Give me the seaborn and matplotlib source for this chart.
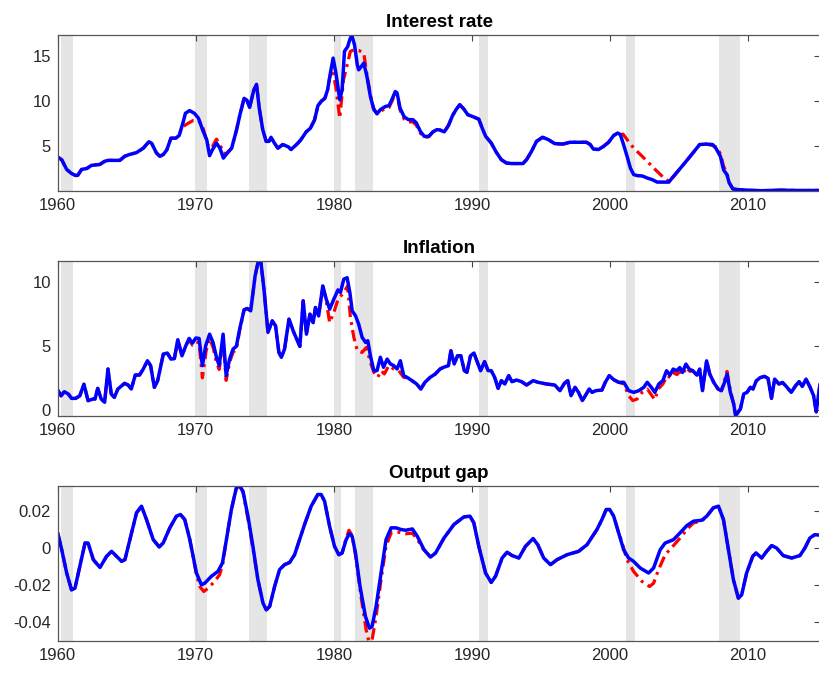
import numpy as np
import pandas as pd
import matplotlib
matplotlib.use("Agg")
import matplotlib.pyplot as plt
import seaborn as sns

sns.set_style("white")
plt.rcParams['font.family'] = ['Liberation Sans', 'DejaVu Sans']
plt.rcParams['axes.unicode_minus'] = False

# ---------------- data ----------------
# NBER recession dates (fractional years)
rec_start = [1960.25, 1969.92, 1973.83, 1980.0, 1981.5, 1990.5, 2001.17, 2007.92]
rec_end = [1961.08, 1970.83, 1975.17, 1980.5, 1982.83, 1991.17, 2001.83, 2009.42]

# Interest rate (blue, solid)
ir_t = [1960.0, 1960.3, 1960.65, 1961.0, 1961.3, 1961.45, 1961.73, 1962.1, 1962.45, 1963.05,
        1963.4, 1963.65, 1964.5, 1964.85, 1965.2, 1965.7, 1966.2, 1966.6, 1966.8, 1967.15,
        1967.4, 1967.65, 1967.9, 1968.2, 1968.55, 1968.8, 1969.1, 1969.25, 1969.55, 1969.9,
        1970.2, 1970.5, 1970.8, 1971.0, 1971.2, 1971.5, 1971.75, 1972.0, 1972.2, 1972.6,
        1972.95, 1973.2, 1973.5, 1973.7, 1973.9, 1974.2, 1974.4, 1974.6, 1974.85, 1975.1,
        1975.3, 1975.45, 1975.7, 1975.95, 1976.3, 1976.7, 1976.9, 1977.3, 1977.6, 1978.0,
        1978.3, 1978.6, 1978.85, 1979.1, 1979.35, 1979.55, 1979.75, 1979.95, 1980.15, 1980.43,
        1980.6, 1980.77, 1981.0, 1981.15, 1981.3, 1981.5, 1981.7, 1981.8, 1981.98, 1982.17,
        1982.4, 1982.65, 1982.9, 1983.13, 1983.37, 1983.73, 1984.0, 1984.2, 1984.45, 1984.58,
        1984.8, 1985.1, 1985.4, 1985.73, 1985.97, 1986.27, 1986.55, 1986.87, 1987.18, 1987.47,
        1987.7, 1988.0, 1988.3, 1988.6, 1988.85, 1989.12, 1989.4, 1989.7, 1990.12, 1990.5,
        1990.75, 1991.0, 1991.4, 1991.77, 1992.13, 1992.5, 1992.86, 1993.7, 1993.96, 1994.32,
        1994.68, 1995.12, 1995.53, 1996.0, 1996.6, 1997.1, 1998.3, 1998.57, 1998.8, 1999.17,
        1999.54, 1999.9, 2000.27, 2000.56, 2000.75, 2000.95, 2001.24, 2001.48, 2001.72, 2002.0,
        2002.33, 2002.7, 2003.05, 2003.42, 2004.27, 2004.5, 2005.0, 2005.6, 2006.1, 2006.5,
        2006.95, 2007.43, 2007.67, 2008.0, 2008.23, 2008.47, 2008.64, 2008.9, 2009.25, 2010.07,
        2010.95, 2011.67, 2012.4, 2013.86, 2015.25]
ir_v = [3.83, 3.5, 2.45, 2.0, 1.78, 1.8, 2.45, 2.55, 2.9, 3.0,
        3.35, 3.45, 3.45, 3.9, 4.1, 4.3, 4.8, 5.5, 5.35, 4.27,
        3.9, 4.1, 4.6, 5.9, 5.9, 6.2, 7.75, 8.65, 8.95, 8.65,
        8.1, 6.8, 5.7, 3.97, 4.6, 5.35, 4.8, 3.7, 4.1, 4.8,
        6.8, 8.5, 10.3, 10.1, 9.3, 11.2, 11.85, 9.2, 6.85, 5.55,
        5.55, 6.0, 5.35, 4.8, 5.2, 4.95, 4.65, 5.2, 5.7, 6.6,
        7.0, 7.9, 9.5, 10.0, 10.3, 11.25, 13.1, 14.75, 13.1, 10.15,
        11.25, 15.5, 16.0, 16.75, 17.3, 16.2, 14.0, 13.45, 13.8, 14.2,
        12.7, 10.5, 9.05, 8.6, 9.05, 9.4, 9.5, 10.15, 11.05, 10.9,
        9.2, 8.25, 7.95, 7.95, 7.6, 6.65, 6.1, 6.1, 6.6, 6.85,
        6.8, 6.6, 7.3, 8.4, 9.05, 9.6, 9.15, 8.5, 8.25, 8.0,
        7.0, 6.1, 5.37, 4.34, 3.53, 3.16, 3.1, 3.1, 3.53, 4.45,
        5.55, 6.0, 5.75, 5.3, 5.25, 5.45, 5.45, 5.2, 4.7, 4.65,
        5.0, 5.45, 6.2, 6.47, 6.3, 5.37, 3.9, 2.6, 1.88, 1.76,
        1.73, 1.5, 1.33, 1.05, 1.05, 1.5, 2.4, 3.5, 4.45, 5.2,
        5.25, 5.2, 4.8, 3.9, 2.4, 1.88, 0.96, 0.3, 0.22, 0.15,
        0.1, 0.13, 0.16, 0.12, 0.13]

# Interest rate (red, dash-dot) where it departs from the blue path
ir_alt_t = [1968.95, 1969.1, 1969.45, 1969.8, 1970.2, 1970.5, 1970.85, 1971.15, 1971.5, 1971.75, 1972.0, 1972.2,
            1979.7, 1979.9, 1980.15, 1980.43, 1980.7, 1981.0, 1981.2, 1981.45, 1981.8, 1982.17, 1982.4,
            1982.65, 1982.85, 1983.13, 1983.37, 1983.73, 1984.0, 1984.2, 1984.45, 1984.58, 1984.8,
            1985.1, 1985.4, 1985.73, 1985.97, 1986.27, 1986.55, 1986.87,
            2000.75, 2000.95, 2001.24, 2001.72, 2002.2, 2002.7, 2003.17, 2003.66, 2004.03, 2004.4, 2004.5,
            2007.43, 2007.67, 2008.0, 2008.23, 2008.47, 2008.64]
ir_alt_v = [6.95, 7.2, 7.55, 7.85, 7.85, 7.2, 5.2, 4.8, 5.8, 5.2, 4.25, 4.2,
            12.6, 13.5, 11.5, 8.1, 12.35, 14.2, 15.5, 15.65, 15.6, 15.3, 12.9,
            10.7, 9.3, 8.6, 8.85, 9.2, 9.3, 9.95, 10.85, 10.7, 9.0,
            8.0, 7.7, 7.7, 7.35, 6.45, 6.0, 6.05,
            6.3, 6.35, 5.75, 4.8, 4.1, 3.35, 2.6, 1.88, 1.33, 1.1, 1.45,
            5.1, 4.95, 4.2, 2.8, 2.0, 1.0]

# Inflation (blue, solid)
inf_t = [1960.0, 1960.24, 1960.48, 1960.77, 1961.0, 1961.3, 1961.6, 1961.9, 1962.2, 1962.55,
         1962.7, 1962.9, 1963.15, 1963.4, 1963.64, 1963.88, 1964.1, 1964.36, 1964.84, 1965.1,
         1965.33, 1965.62, 1965.93, 1966.2, 1966.5, 1966.73, 1967.0, 1967.24, 1967.65, 1967.94,
         1968.2, 1968.45, 1968.7, 1969.0, 1969.28, 1969.52, 1969.76, 1970.0, 1970.24, 1970.48,
         1970.72, 1971.0, 1971.25, 1971.5, 1971.7, 1971.98, 1972.2, 1972.45, 1972.7, 1972.94,
         1973.18, 1973.5, 1973.73, 1973.98, 1974.3, 1974.53, 1974.72, 1974.94, 1975.23, 1975.54,
         1975.78, 1976.02, 1976.2, 1976.43, 1976.75, 1977.1, 1977.54, 1977.78, 1978.02, 1978.27,
         1978.5, 1978.67, 1978.9, 1979.2, 1979.45, 1979.7, 1980.0, 1980.3, 1980.48, 1980.72,
         1980.96, 1981.16, 1981.33, 1981.57, 1981.8, 1982.05, 1982.3, 1982.46, 1982.65, 1982.9,
         1983.13, 1983.37, 1983.6, 1983.86, 1984.1, 1984.34, 1984.58, 1984.82, 1985.06, 1985.3,
         1985.66, 1986.0, 1986.3, 1986.6, 1986.98, 1987.35, 1987.7, 1987.95, 1988.3, 1988.48,
         1988.72, 1988.96, 1989.2, 1989.45, 1989.64, 1989.9, 1990.15, 1990.4, 1990.63, 1990.92,
         1991.17, 1991.4, 1991.65, 1991.9, 1992.14, 1992.38, 1992.67, 1992.9, 1993.23, 1993.6,
         1993.96, 1994.44, 1994.8, 1995.4, 1996.0, 1996.38, 1996.7, 1996.94, 1997.18, 1997.47,
         1997.72, 1998.0, 1998.25, 1998.5, 1998.7, 1998.98, 1999.42, 1999.66, 1999.95, 2000.27,
         2000.63, 2001.0, 2001.36, 2001.72, 2002.09, 2002.45, 2002.7, 2003.0, 2003.25, 2003.54,
         2003.83, 2004.1, 2004.34, 2004.58, 2004.82, 2005.06, 2005.25, 2005.5, 2005.74, 2006.0,
         2006.3, 2006.5, 2006.7, 2007.0, 2007.23, 2007.52, 2007.83, 2008.07, 2008.3, 2008.48,
         2008.72, 2008.96, 2009.1, 2009.45, 2009.69, 2009.93, 2010.17, 2010.36, 2010.6, 2010.9,
         2011.2, 2011.45, 2011.7, 2011.93, 2012.24, 2012.5, 2012.77, 2013.13, 2013.45, 2013.7,
         2013.93, 2014.2, 2014.5, 2014.75, 2014.94, 2015.25]
inf_v = [1.55, 1.1, 1.42, 1.24, 0.9, 0.9, 1.1, 2.0, 0.72, 0.85,
         0.85, 1.68, 0.85, 0.6, 3.19, 1.24, 0.98, 1.63, 2.07, 1.94,
         1.63, 2.72, 2.72, 3.19, 3.83, 3.45, 1.76, 2.28, 4.35, 4.43,
         3.96, 4.0, 5.47, 4.22, 5.0, 5.57, 5.2, 5.6, 5.57, 3.45,
         5.0, 5.9, 5.26, 4.1, 3.45, 5.9, 2.67, 3.96, 4.74, 4.95,
         6.3, 7.8, 7.9, 7.72, 10.45, 11.6, 11.5, 9.4, 6.04, 6.94,
         6.55, 4.48, 4.1, 4.74, 7.07, 6.04, 4.95, 8.5, 5.9, 7.46,
         6.8, 7.98, 7.33, 9.66, 8.63, 7.85, 8.63, 9.35, 9.15, 10.18,
         10.3, 9.15, 7.72, 7.33, 6.68, 5.65, 5.26, 5.39, 4.22, 3.06,
         3.06, 4.1, 3.32, 3.96, 3.58, 3.45, 3.19, 3.83, 2.67, 2.54,
         2.28, 2.02, 1.63, 2.15, 2.54, 2.8, 3.19, 3.32, 3.45, 4.61,
         3.58, 4.22, 4.22, 3.06, 2.93, 4.22, 4.43, 3.7, 3.06, 3.76,
         3.06, 3.06, 2.54, 1.68, 2.28, 2.02, 2.67, 2.2, 2.33, 2.2,
         1.94, 2.28, 2.15, 2.02, 1.94, 1.5, 2.07, 2.28, 1.11, 1.76,
         1.37, 0.73, 1.17, 1.63, 1.37, 1.5, 1.55, 2.15, 2.67, 2.36,
         2.15, 2.15, 1.5, 1.37, 1.5, 1.76, 2.15, 1.76, 1.37, 2.02,
         2.28, 3.05, 2.71, 3.18, 3.05, 3.3, 2.92, 3.57, 3.18, 3.05,
         2.71, 3.18, 1.5, 3.82, 2.79, 2.14, 1.63, 1.5, 2.14, 2.79,
         1.37, 0.47, -0.45, 0.08, 1.24, 1.37, 1.76, 1.63, 2.27, 2.53,
         2.61, 2.45, 0.9, 2.4, 2.02, 2.14, 1.83, 1.37, 1.89, 2.2,
         1.83, 2.4, 1.76, 1.11, -0.15, 2.3]

# Inflation (red, dash-dot) where it departs from the blue path
inf_alt_t = [1969.52, 1969.76, 1970.0, 1970.24, 1970.48, 1970.75, 1971.0, 1971.25, 1971.5, 1971.7,
             1971.98, 1972.2, 1972.45, 1972.7, 1972.94, 1973.18,
             1979.45, 1979.7, 1980.0, 1980.3, 1980.72, 1981.0, 1981.2, 1981.45, 1981.7, 1982.05,
             1982.36, 1982.65, 1982.9, 1983.18, 1983.42, 1983.66, 1983.98, 1984.34, 1984.7, 1985.06, 1985.3,
             2001.0, 2001.36, 2001.65, 2001.97, 2002.33, 2002.7, 2003.05, 2003.25, 2003.5, 2003.83,
             2004.15, 2004.4, 2004.6, 2004.85, 2005.06, 2005.3, 2005.5, 2005.8,
             2008.3, 2008.48, 2008.72]
inf_alt_v = [5.45, 5.05, 5.3, 5.25, 2.5, 4.6, 5.55, 4.9, 3.7, 3.15,
             5.6, 2.3, 3.7, 4.5, 4.7, 6.2,
             8.5, 6.8, 7.6, 8.6, 9.15, 9.66, 7.2, 5.65, 4.61, 4.48,
             4.87, 3.7, 2.93, 2.54, 3.06, 2.8, 3.45, 3.19, 3.06, 2.54, 2.5,
             2.02, 1.11, 0.73, 0.85, 1.37, 1.63, 1.11, 0.8, 1.63, 2.02,
             2.67, 2.5, 2.9, 2.75, 3.0, 2.75, 3.3, 3.0,
             2.3, 3.0, 1.5]

# Output gap (blue, solid)
gap_t = [1960.0, 1960.29, 1960.65, 1961.0, 1961.25, 1961.6, 1961.98, 1962.2, 1962.58, 1963.06,
         1963.54, 1963.9, 1964.27, 1964.63, 1964.87, 1965.23, 1965.71, 1966.07, 1966.43, 1966.92,
         1967.35, 1967.64, 1968.12, 1968.6, 1968.89, 1969.2, 1969.57, 1970.05, 1970.41, 1970.65,
         1971.13, 1971.61, 1971.93, 1972.22, 1972.58, 1972.94, 1973.18, 1973.42, 1973.78, 1974.14,
         1974.5, 1974.87, 1975.11, 1975.35, 1975.71, 1976.07, 1976.43, 1976.8, 1977.16, 1977.52,
         1977.88, 1978.36, 1978.84, 1979.08, 1979.33, 1979.69, 1980.05, 1980.36, 1980.6, 1980.89,
         1981.13, 1981.33, 1981.57, 1981.9, 1982.29, 1982.58, 1982.77, 1983.06, 1983.42, 1983.78,
         1984.15, 1984.5, 1984.87, 1985.2, 1985.69, 1986.05, 1986.53, 1987.0, 1987.37, 1987.98,
         1988.7, 1989.42, 1989.86, 1990.14, 1990.5, 1990.99, 1991.4, 1991.71, 1992.19, 1992.55,
         1992.92, 1993.4, 1993.88, 1994.43, 1994.77, 1995.2, 1995.69, 1996.17, 1996.9, 1997.73,
         1998.34, 1999.06, 1999.42, 1999.73, 1999.98, 2000.27, 2000.63, 2000.99, 2001.35, 2001.71,
         2002.19, 2002.8, 2003.16, 2003.64, 2004.0, 2004.6, 2005.08, 2005.57, 2006.05, 2006.65,
         2007.01, 2007.49, 2007.86, 2008.22, 2008.58, 2008.94, 2009.3, 2009.54, 2009.9, 2010.34,
         2010.58, 2010.99, 2011.35, 2011.71, 2012.07, 2012.55, 2013.16, 2013.76, 2014.12, 2014.48,
         2014.84, 2015.25]
gap_v = [0.008, -0.0011, -0.0137, -0.0228, -0.0219, -0.0101, 0.0025, 0.0025, -0.0065, -0.0107,
         -0.0047, -0.002, -0.0047, -0.0074, -0.0065, 0.0043, 0.0188, 0.0224, 0.0152, 0.0043,
         0.0004, 0.0025, 0.0107, 0.017, 0.0179, 0.0152, 0.0043, -0.0137, -0.0201, -0.0192,
         -0.0155, -0.0128, -0.0083, 0.0043, 0.0206, 0.0323, 0.0333, 0.0305, 0.017, 0.0007,
         -0.0173, -0.030, -0.0336, -0.0318, -0.021, -0.0119, -0.0092, -0.008, -0.0038, 0.0043,
         0.0125, 0.0224, 0.0287, 0.0287, 0.0251, 0.0116, 0.0007, -0.0038, -0.0029, 0.0043,
         0.0076, 0.0061, -0.0029, -0.021, -0.0372, -0.0435, -0.0426, -0.0318, -0.0137, 0.0043,
         0.0107, 0.0107, 0.0098, 0.0094, 0.0101, 0.0061, -0.0011, -0.0051, -0.0029, 0.0052,
         0.0125, 0.0166, 0.017, 0.0134, 0.0007, -0.0137, -0.0188, -0.0155, -0.0056, -0.0025,
         -0.0043, -0.0056, 0.0007, 0.0049, 0.0016, -0.0056, -0.0092, -0.0065, -0.0038, -0.002,
         0.0016, 0.0098, 0.0152, 0.0206, 0.0206, 0.017, 0.008, -0.0011, -0.0056, -0.0074,
         -0.011, -0.0137, -0.011, -0.0011, 0.0025, 0.0043, 0.008, 0.0119, 0.0143, 0.0148,
         0.017, 0.0215, 0.0224, 0.0152, -0.0011, -0.0173, -0.0273, -0.0255, -0.0137, -0.0047,
         -0.0029, -0.0056, -0.002, 0.0011, -0.0002, -0.0043, -0.0056, -0.0043, -0.0002, 0.0052,
         0.007, 0.0067]

# Output gap (red, dash-dot) where it departs from the blue path
gap_alt_t = [1970.05, 1970.29, 1970.58, 1970.9, 1971.37, 1971.73, 1971.95,
             1973.42, 1973.78, 1974.14,
             1980.89, 1981.1, 1981.33, 1981.57, 1981.97, 1982.34, 1982.53, 1982.77, 1983.06, 1983.42,
             1983.78, 1984.15, 1984.75, 1985.2, 1985.69, 1986.05, 1986.4,
             2000.8, 2001.23, 2001.71, 2002.31, 2002.87, 2003.16, 2003.52, 2004.0, 2004.6, 2005.08,
             2005.57, 2006.05, 2006.65, 2007.01]
gap_alt_v = [-0.0145, -0.021, -0.0237, -0.0219, -0.0182, -0.0146, -0.009,
             0.030, 0.0155, -0.0005,
             0.005, 0.0094, 0.0065, -0.004, -0.0264, -0.0444, -0.0506, -0.0499, -0.0372, -0.0173,
             0.0007, 0.008, 0.0083, 0.0075, 0.0078, 0.0045, 0.0,
             0.0045, -0.0065, -0.0128, -0.0182, -0.021, -0.0192, -0.0119, -0.0038, 0.0011, 0.0052,
             0.0098, 0.0134, 0.0143, 0.017]


def full_path(t, v, alt_t, alt_v, gap=1.0):
    """Blue path with the red departures spliced in over their own windows."""
    t = np.asarray(t, float)
    v = np.asarray(v, float)
    alt_t = np.asarray(alt_t, float)
    alt_v = np.asarray(alt_v, float)
    breaks = np.where(np.diff(alt_t) > gap)[0] + 1
    keep = np.ones(len(t), bool)
    for seg in np.split(alt_t, breaks):
        keep &= ~((t >= seg[0]) & (t <= seg[-1]))
    tt = np.concatenate([t[keep], alt_t])
    vv = np.concatenate([v[keep], alt_v])
    order = np.argsort(tt, kind="stable")
    return tt[order], vv[order]


panels = [
    ("Interest rate", ir_t, ir_v, ir_alt_t, ir_alt_v, [5, 10, 15], ["5", "10", "15"]),
    ("Inflation", inf_t, inf_v, inf_alt_t, inf_alt_v, [0, 5, 10], ["0", "5", "10"]),
    ("Output gap", gap_t, gap_v, gap_alt_t, gap_alt_v,
     [-0.04, -0.02, 0, 0.02], ["-0.04", "-0.02", "0", "0.02"]),
]

fig = plt.figure(figsize=(8.2, 6.73), dpi=100)
W, H = 820.0, 673.0
boxes = [(35.0, 190.7), (261.0, 415.7), (486.0, 641.3)]
left, right = 57.7, 820.5
x_lo, x_hi = 1960.0, 2015.25

for (title, t, v, at, av, yt, ytl), (top, bot) in zip(panels, boxes):
    ax = fig.add_axes([left / W, 1 - bot / H, (right - left) / W, (bot - top) / H])
    for s, e in zip(rec_start, rec_end):
        ax.axvspan(s, e, color="#e5e5e5", lw=0, zorder=0)

    rt, rv = full_path(t, v, at, av)
    red = pd.DataFrame({"year": rt, "value": rv})
    blue = pd.DataFrame({"year": t, "value": v})
    sns.lineplot(data=red, x="year", y="value", ax=ax, color="#ff0000", lw=2.3,
                 sort=False, estimator=None, zorder=2)
    ax.lines[-1].set_linestyle((0, (3.6, 1.6, 0.9, 1.6)))
    sns.lineplot(data=blue, x="year", y="value", ax=ax, color="#0000ff", lw=2.5,
                 sort=False, estimator=None, zorder=3)

    lo = min(np.min(v), np.min(av))
    hi = max(np.max(v), np.max(av))
    ax.set_xlim(x_lo, x_hi)
    ax.set_ylim(lo, hi)
    ax.set_xticks([1960, 1970, 1980, 1990, 2000, 2010])
    ax.set_xticklabels(["1960", "1970", "1980", "1990", "2000", "2010"])
    ax.set_yticks(yt)
    ax.set_yticklabels(ytl)
    ax.set_xlabel("")
    ax.set_ylabel("")
    ax.tick_params(direction="in", top=True, right=True, length=4, width=0.8,
                   color="#444444", labelcolor="#262626", labelsize=12, pad=5)
    for sp in ax.spines.values():
        sp.set_color("#555555")
        sp.set_linewidth(0.9)
        sp.set_zorder(4)
    ax.set_title(title, fontsize=13.5, fontweight="bold", color="black", pad=6)
    ax.grid(False)

fig.savefig("out.png", dpi=100)
